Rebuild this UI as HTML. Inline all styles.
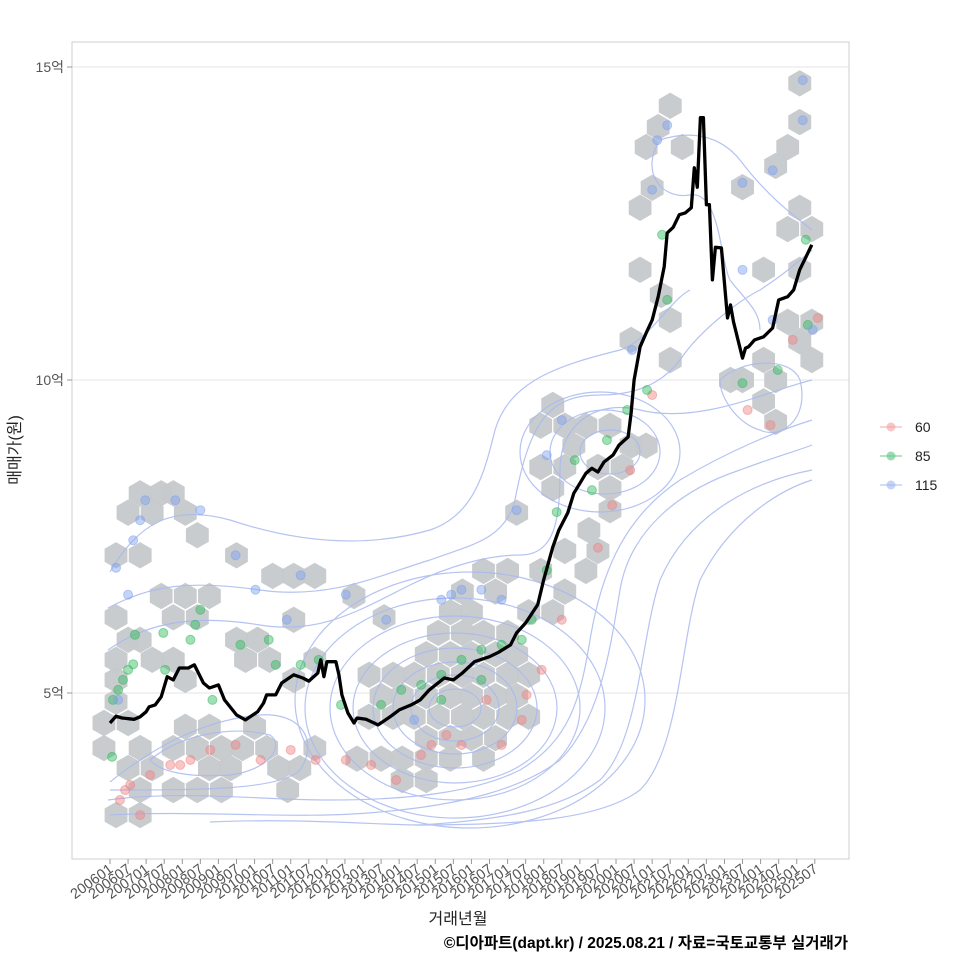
<!DOCTYPE html>
<html><head><meta charset="utf-8">
<style>
body{margin:0;background:#fff;}
svg{display:block;font-family:"Liberation Sans","Noto Sans CJK KR",sans-serif;}
</style></head>
<body>
<svg id="chart" width="960" height="960" viewBox="0 0 960 960" xmlns="http://www.w3.org/2000/svg">
<rect x="0" y="0" width="960" height="960" fill="#fff"/>
<g id="grid"></g>
<g id="hexes"></g>
<g id="contours" fill="none" stroke="#a9b9ef" stroke-width="1.2" opacity="0.85">
<path d="M110,572 C140,520 175,505 230,520 C290,540 360,550 430,530 C475,515 485,470 495,430 C510,380 560,365 620,350 C650,340 670,300 690,290"/>
<path d="M108,608 C150,585 190,580 260,590 C330,600 380,575 430,560 C470,545 505,540 515,500 C530,420 550,395 600,395 C640,395 665,380 680,360 C700,330 740,300 760,290 C790,270 800,260 812,250"/>
<path d="M108,650 C150,620 200,615 260,625 C320,635 360,610 410,585 C450,565 490,555 520,555 C555,555 560,520 560,470 C560,420 600,400 640,410 C700,425 770,390 812,380"/>
<path d="M108,800 C180,790 260,800 330,800 C420,800 480,790 520,770 C570,740 580,700 590,640 C600,580 620,520 680,480 C730,450 780,430 812,420"/>
<path d="M110,815 C200,810 300,820 380,812 C460,805 520,790 560,760 C600,720 610,650 620,590 C630,530 680,490 740,470 C780,455 800,450 812,445"/>
<path d="M210,822 C300,818 380,825 420,825 C500,820 560,810 600,780 C640,740 640,640 660,580 C690,510 760,480 812,470"/>
<path d="M415,825 C520,825 600,820 640,790 C680,750 680,640 700,580 C730,520 780,490 812,480"/>
<path d="M110,782 C150,750 200,720 260,715 C300,712 320,740 300,770 C280,790 200,790 110,790"/>
<path d="M150,760 C180,735 230,725 270,735 C285,745 270,770 230,775 C190,778 160,772 150,760Z"/>
<ellipse cx="455" cy="708" rx="150" ry="110"/>
<ellipse cx="455" cy="708" rx="125" ry="92"/>
<ellipse cx="455" cy="708" rx="102" ry="75"/>
<ellipse cx="455" cy="708" rx="82" ry="60"/>
<ellipse cx="455" cy="708" rx="62" ry="46"/>
<ellipse cx="455" cy="708" rx="44" ry="33"/>
<ellipse cx="455" cy="708" rx="26" ry="19"/>
<ellipse cx="470" cy="700" rx="175" ry="128"/>
<ellipse cx="600" cy="452" rx="80" ry="60"/>
<ellipse cx="605" cy="452" rx="55" ry="42"/>
<ellipse cx="610" cy="452" rx="30" ry="22"/>
<path d="M660,140 C640,170 660,200 690,195 C720,190 720,260 730,280 C745,300 760,310 760,330 M660,140 C690,130 720,135 740,160 C770,200 800,220 812,230"/>
<path d="M720,380 C740,360 790,355 800,380 C810,420 780,440 760,430 C740,425 720,400 720,380Z"/>
</g>
<g id="points"></g>
<g id="line"></g>
<rect x="72" y="42" width="777" height="817" fill="none" stroke="#cfcfcf" stroke-width="1"/>
<g id="axes"></g>
<text x="20" y="450" transform="rotate(-90 20 450)" text-anchor="middle" font-size="16" fill="#222">매매가(원)</text>
<text x="458" y="924" text-anchor="middle" font-size="16" fill="#222">거래년월</text>
<text x="848" y="948" text-anchor="end" font-size="15.5" font-weight="bold" fill="#000">©디아파트(dapt.kr) / 2025.08.21 / 자료=국토교통부 실거래가</text>
<g id="legend"></g>
</svg>
<script>
// ---- data ----
const lineMonths = [0,2,4,8,10,12,13,15,17,19,21,23,26,28,31,33,36,38,42,45,49,51,52,55,57,61,64,66,69,70,71,72,75,76,77,79,81,82,85,89,93,96,100,103,106,111,114,117,121,126,129,133,135,138,142,144,147,149,152,154,156,158,160,162,164,167,169,172,173,174,176,178,180,182,184,185,187,189,191,193,194,195,196,197,198,199,200,201,203,205,206,207,210,211,212,214,217,220,222,225,227,229,231,233];
const linePrice = [4.52,4.63,4.60,4.58,4.62,4.70,4.78,4.81,4.94,5.26,5.21,5.40,5.40,5.45,5.16,5.08,5.13,4.89,4.65,4.57,4.70,4.84,4.97,4.97,5.16,5.29,5.24,5.19,5.32,5.53,5.26,5.50,5.50,5.29,4.97,4.68,4.52,4.60,4.58,4.49,4.62,4.73,4.81,4.89,5.05,5.24,5.21,5.32,5.50,5.58,5.65,5.77,5.96,6.12,6.41,6.81,7.33,7.60,7.88,8.19,8.35,8.51,8.59,8.53,8.69,8.80,8.96,9.09,9.47,10.00,10.53,10.75,10.96,11.33,11.81,12.35,12.44,12.64,12.67,12.75,13.39,13.08,14.19,14.19,12.80,12.80,11.60,12.12,12.11,10.99,11.20,10.93,10.35,10.51,10.53,10.64,10.69,10.83,11.28,11.33,11.44,11.76,11.96,12.16];

const hexMonth = [186,182,178,190,176,180,176,183,186,173,186,229,229,225,221,210,229,225,233,217,229,225,233,229,233,217,210,206,221,217,221,
147,143,151,143,158,166,173,178,162,170,166,154,151,147,166,159,162,158,135,151,143,151,147,
132,124,128,117,120,113,109,117,124,132,139,135,128,120,113,105,109,117,124,132,139,101,94,86,90,97,105,113,120,128,135,139,132,124,117,109,101,94,86,105,113,120,128,124,113,105,97,90,82,105,97,91,
2,10,6,10,14,17,21,25,29,42,54,61,68,81,61,17,25,33,2,6,2,10,14,21,29,21,25,42,49,45,53,68,61,2,2,-2,-2,6,10,6,14,10,2,10,21,29,25,33,37,40,33,44,48,52,56,63,68,59,21,29,37];
const hexPrice = [14.38,14.04,13.72,13.72,12.75,13.07,11.76,11.36,10.96,10.64,10.32,14.74,14.12,13.72,13.42,13.08,12.75,12.41,12.41,11.76,11.76,10.93,10.93,10.62,10.32,10.32,10.00,10.00,10.00,9.66,9.33,
9.60,9.27,9.27,8.61,9.27,9.27,8.95,8.95,8.61,8.61,8.27,8.95,8.61,8.27,7.92,7.60,7.27,6.95,7.88,7.27,6.95,6.62,6.29,
6.95,6.95,6.62,6.62,6.29,6.29,5.96,5.96,5.96,5.96,6.29,5.62,5.62,5.62,5.62,5.62,5.29,5.29,5.29,5.29,5.29,5.29,5.29,5.29,4.95,4.95,4.95,4.95,4.95,4.95,4.95,4.62,4.62,4.62,4.62,4.62,4.62,4.62,4.62,4.28,4.28,4.28,4.28,3.95,3.95,3.95,3.95,3.95,3.95,3.61,3.61,6.21,
7.20,7.20,7.88,8.19,7.88,8.19,8.19,7.88,7.52,7.20,6.87,6.87,6.87,6.55,6.17,6.55,6.55,6.55,6.21,5.85,5.53,5.85,5.53,6.21,6.21,5.53,5.21,5.85,5.85,5.53,5.53,5.53,5.21,5.21,4.86,4.52,4.12,4.52,4.12,3.80,3.80,3.45,3.05,3.05,4.12,4.12,4.46,4.46,4.12,3.80,3.80,4.12,4.46,4.12,3.80,3.80,4.12,3.45,3.45,3.45,3.45];

const greenMonth = [0.7,1,2.7,4.3,6,7.7,8.3,17.7,26.7,28.3,34,43.3,52.7,55,63.3,69.3,76.7,90,96.7,103.3,110,116.7,123.3,130,136.7,140,145,148.3,154.3,160,165,171.7,178.3,183.3,185,210,221.7,231,231.7,30,18.3,123.3,110];
const greenPrice = [3.98,4.89,5.05,5.21,5.37,5.46,5.93,5.96,5.85,6.09,4.89,5.77,5.85,5.45,5.45,5.53,4.81,4.81,5.05,5.13,5.29,5.53,5.69,5.77,5.85,6.17,6.96,7.89,8.72,8.24,9.04,9.52,9.84,12.32,11.28,9.95,10.16,12.24,10.88,6.33,5.37,5.21,4.89];
const redMonth = [3.3,6.7,10,13.3,20,26.7,33.3,41.7,50,60,68.3,78.3,86.7,95,103.3,111.7,116.7,130,136.7,138.3,143.3,150,162,166.7,172.7,180,211.7,219.3,226.7,235,5,23.3,106.7,125];
const redPrice = [3.29,3.53,3.05,3.69,3.85,3.93,4.09,4.17,3.93,4.09,3.93,3.93,3.85,3.61,4.01,4.33,4.17,4.17,4.57,4.97,5.37,6.17,7.32,8.00,8.56,9.76,9.52,9.28,10.64,10.99,3.45,3.85,4.17,4.89];
const blueMonth = [2,7.7,10,11.7,21.7,30,41.7,48.3,58.7,63.3,78.3,91.7,110,113.3,116.7,123.3,130,135,150,145,173.3,181.7,185,180,210,210,230,230,220,233.3,220,2.7,101,6];
const bluePrice = [7.00,7.44,7.76,8.08,8.08,7.92,7.20,6.65,6.17,6.88,6.57,6.17,6.49,6.57,6.65,6.65,6.49,7.92,9.36,8.80,10.48,13.83,14.07,13.04,13.15,11.76,14.79,14.15,13.35,10.80,10.96,4.89,4.57,6.57];

const yTicks = [5,10,15];
const yTickLabels = ["5억","10억","15억"];
const legendLabels = ["60","85","115"];

// ---- scales ----
const NS = "http://www.w3.org/2000/svg";
function xScale(m){ return 110 + m * 3.012; }
function yScale(p){ return 693 - (p - 5) * 62.6; }
function mk(tag, attrs, parent){
  const el = document.createElementNS(NS, tag);
  for (const k in attrs) el.setAttribute(k, attrs[k]);
  parent.appendChild(el);
  return el;
}
const grid = document.getElementById('grid');
const axes = document.getElementById('axes');
yTicks.forEach((v,i)=>{
  const gl = mk('line',{x1:72,x2:849,y1:yScale(v),y2:yScale(v),stroke:'#e6e6e6','stroke-width':1},grid);
  
  
  const tk = mk('line',{x1:67,x2:72,y1:yScale(v),y2:yScale(v),stroke:'#999'},axes);
  
  
  const t = mk('text',{x:64,y:yScale(v)+5,'text-anchor':'end','font-size':14,fill:'#555'},axes);
  t.textContent = yTickLabels[i];
  
  
});
for (let m = 0; m <= 234; m += 6){
  const yr = 2006 + Math.floor(m/12), mo = (m%12)+1;
  const lab = yr + (mo<10?'0':'') + mo;
  const x = xScale(m);
  const tk = mk('line',{x1:x,x2:x,y1:859,y2:864,stroke:'#999'},axes);
  
  
  const t = mk('text',{x:x+4,y:871,'text-anchor':'end','font-size':14.5,fill:'#555',transform:`rotate(-36 ${x+4} 871)`},axes);
  t.textContent = lab;
  
  
}
const hexG = document.getElementById('hexes');
function hexPath(cx,cy,r){
  let d='';
  for(let i=0;i<6;i++){
    const a = Math.PI/180*(60*i-90);
    d += (i?'L':'M') + (cx + r*Math.cos(a)).toFixed(1) + ',' + (cy + r*Math.sin(a)).toFixed(1);
  }
  return d+'Z';
}
hexMonth.forEach((m,i)=>{
  const h = mk('path',{d:hexPath(xScale(m),yScale(hexPrice[i]),13.2),fill:'#c6c9cc',opacity:0.95},hexG);
  
  
});
const ptG = document.getElementById('points');
function drawPts(ms,ps,color,name){
  ms.forEach((m,i)=>{
    const c = mk('circle',{cx:xScale(m),cy:yScale(ps[i]),r:4.5,fill:color,'fill-opacity':0.45,stroke:color,'stroke-opacity':0.5},ptG);
    
    
  });
}
drawPts(redMonth,redPrice,'#f08080','point-60');
drawPts(greenMonth,greenPrice,'#2eb85c','point-85');
drawPts(blueMonth,bluePrice,'#7d9ff0','point-115');
const lg = document.getElementById('line');
let d = '';
lineMonths.forEach((m,i)=>{ d += (i?'L':'M') + xScale(m).toFixed(1) + ',' + yScale(linePrice[i]).toFixed(1); });
const ln = mk('path',{d:d,fill:'none',stroke:'#000','stroke-width':3.3,'stroke-linejoin':'round'},lg);


const leg = document.getElementById('legend');
const legColors = ['#f4a0a0','#5cc47e','#9cb6f2'];
legendLabels.forEach((lab,i)=>{
  const y = 427 + i*29;
  const l = mk('line',{x1:880,x2:902,y1:y,y2:y,stroke:legColors[i],'stroke-width':1.5,opacity:0.6},leg);
  
  
  const c = mk('circle',{cx:891,cy:y,r:4.5,fill:legColors[i],'fill-opacity':0.6},leg);
  
  
  const t = mk('text',{x:915,y:y+5,'font-size':14,fill:'#222'},leg);
  t.textContent = lab;
  
  
});
</script>
</body></html>
